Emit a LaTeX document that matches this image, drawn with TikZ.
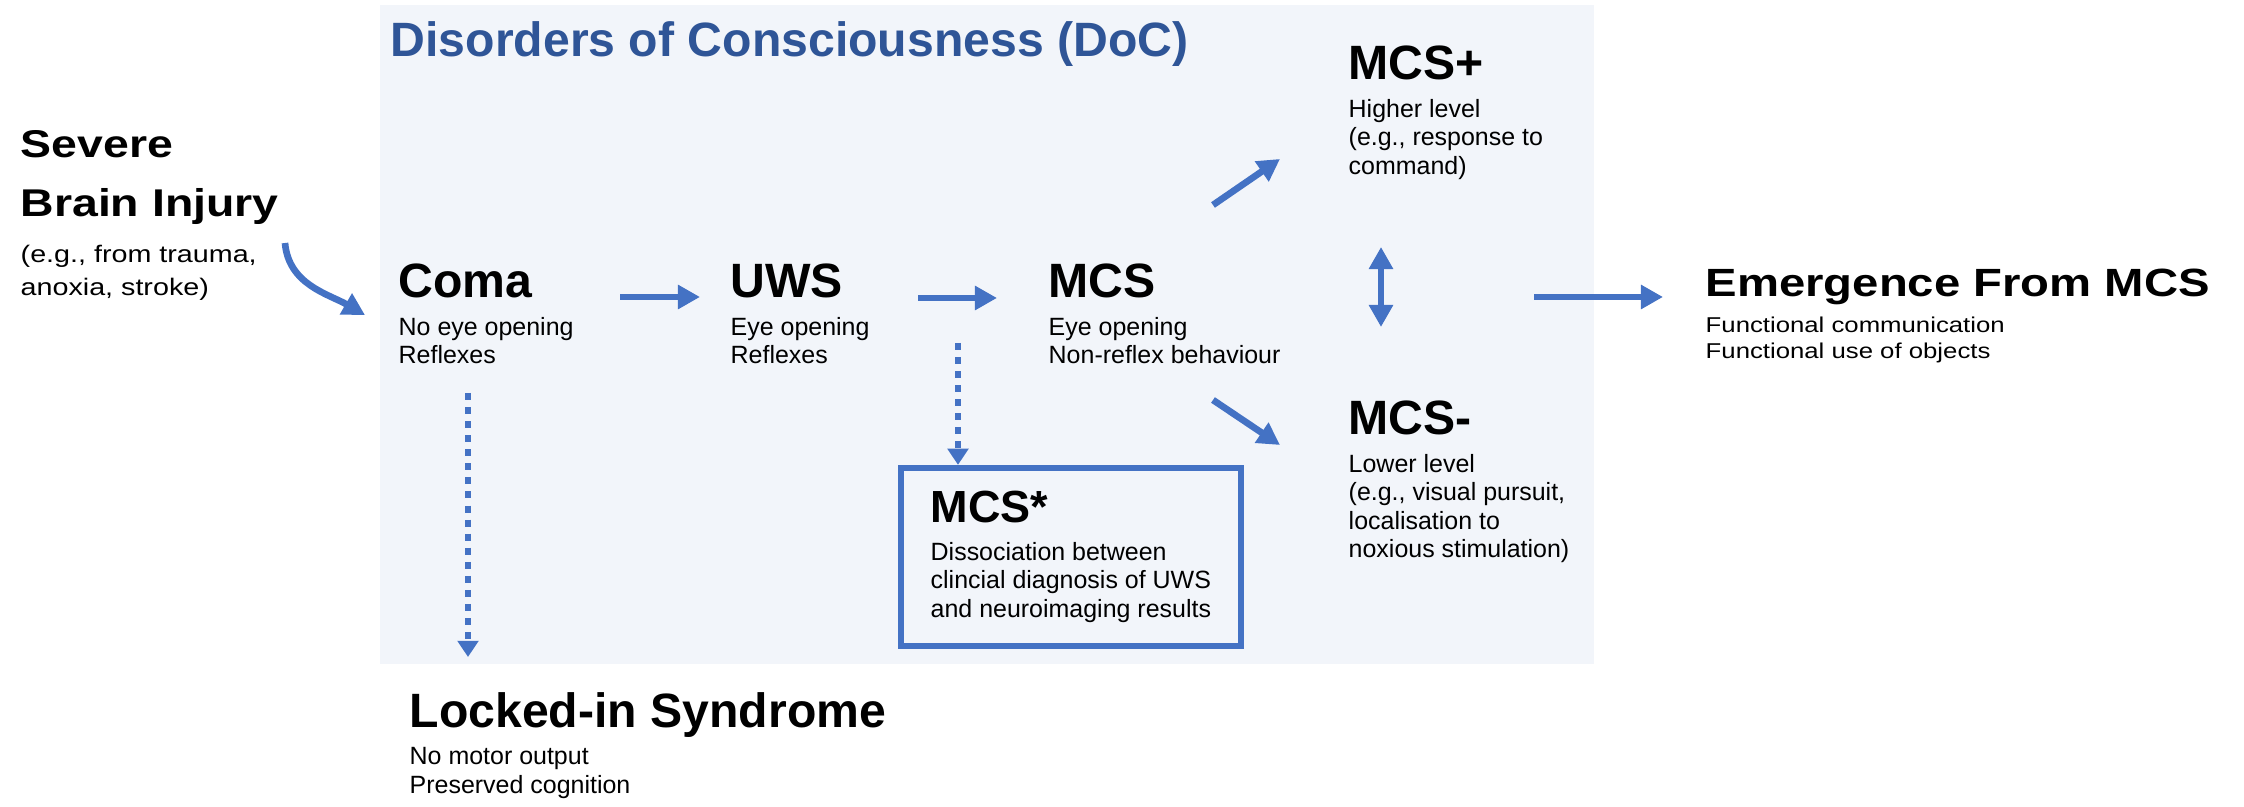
\documentclass[tikz,border=0pt]{standalone}
\usepackage{fontspec}
\setmainfont{Liberation Sans}
\newfontfamily\widesans[FakeStretch=1.2]{Liberation Sans}
\usetikzlibrary{arrows.meta,positioning,fit}
\definecolor{arrowblue}{HTML}{4472C4}
\definecolor{titleblue}{HTML}{2F5597}
\definecolor{panelgray}{HTML}{F2F5FA}
\begin{document}
\begin{tikzpicture}[
  x=0.01cm, y=0.01cm,
  node distance=0.19cm,
  head/.style={inner sep=0, anchor=base west, font=\fontsize{13.7}{16}\selectfont\bfseries},
  desc/.style={below=of #1, anchor=north west, inner sep=0, align=left, font=\fontsize{7.1}{8}\selectfont},
  flow/.style={draw=arrowblue, line width=1.9pt, -{Triangle[length=6.3pt,width=6.6pt]}},
  twoway/.style={flow, {Triangle[length=6.3pt,width=6.6pt]}-{Triangle[length=6.3pt,width=6.6pt]}},
  dotflow/.style={flow, dash pattern=on 2pt off 2pt, -{Triangle[length=4.6pt,width=5.8pt]}},
  starframe/.style={draw=arrowblue, line width=1.7pt, inner xsep=0.29cm, inner ysep=0.23cm}
]
\useasboundingbox (0,0) rectangle (2244,-807);
\node[fill=panelgray, inner sep=0, minimum width=12.14cm, minimum height=6.59cm, anchor=north west] (doc) at (379,-4) {};
\node[head, text=titleblue] (title) at (390,-57) {Disorders of Consciousness (DoC)};

% states
\node[head, anchor=north west, align=left, font=\widesans\fontsize{11}{16.8}\selectfont\bfseries] (severe) at (20,-130) {Severe\\Brain Injury};
\node[desc=severe.south west, font=\widesans\fontsize{6.8}{9.4}\selectfont] (severetxt) {(e.g., from trauma,\\anoxia, stroke)};

\node[head] (coma) at (398,-298) {Coma};
\node[desc=coma.base west] (comatxt) {No eye opening\\Reflexes};
\node[head] (uws) at (730,-298) {UWS};
\node[desc=uws.base west] (uwstxt) {Eye opening\\Reflexes};
\node[head] (mcs) at (1048,-298) {MCS};
\node[desc=mcs.base west] (mcstxt) {Eye opening\\Non-reflex behaviour};

\node[head] (mcsplus) at (1348,-80) {MCS+};
\node[desc=mcsplus.base west] (mcsplustxt) {Higher level\\(e.g., response to\\command)};
\node[head] (mcsminus) at (1348,-435) {MCS-};
\node[desc=mcsminus.base west] (mcsminustxt) {Lower level\\(e.g., visual pursuit,\\localisation to\\noxious stimulation)};

\node[head, font=\fontsize{12.8}{15}\selectfont\bfseries] (mcsstar) at (930,-523) {MCS*};
\node[desc=mcsstar.base west] (mcsstartxt) {Dissociation between\\clincial diagnosis of UWS\\and neuroimaging results};
\node[starframe, fit=(mcsstar)(mcsstartxt)] (starbox) {};

\node[head] (locked) at (409,-728) {Locked-in Syndrome};
\node[desc=locked.base west] (lockedtxt) {No motor output\\Preserved cognition};

\node[head, font=\widesans\fontsize{11.2}{14}\selectfont\bfseries] (emerge) at (1705,-297) {Emergence From MCS};
\node[desc=emerge.base west, font=\widesans\fontsize{6.1}{7.6}\selectfont] (emergetxt) {Functional communication\\Functional use of objects};

% transitions
\draw[flow] ([shift={(265,-113)}]severe.north west) to[out=-85,in=150] ([shift={(-33,-17)}]coma.base west);
\draw[flow] ([shift={(222,1)}]coma.base west) -- ([shift={(-30,1)}]uws.base west);
\draw[flow] ([shift={(188,0)}]uws.base west) -- ([shift={(-51,0)}]mcs.base west);
\draw[flow] ([shift={(165,93)}]mcs.base west) -- ([shift={(-68,-79)}]mcsplus.base west);
\draw[flow] ([shift={(165,-102)}]mcs.base west) -- ([shift={(-68,-10)}]mcsminus.base west);
\draw[twoway] ([shift={(33,-167)}]mcsplus.base west) -- ([shift={(33,108)}]mcsminus.base west);
\draw[flow] ([shift={(-61,0)}]doc.east |- emerge.base west) -- ([shift={(-42,0)}]emerge.base west);
\draw[dotflow] ([shift={(70,-95)}]coma.base west) -- ([shift={(59,71)}]locked.base west);
\draw[dotflow] ([shift={(228,-45)}]uws.base west) -- ([shift={(228,0)}]uws.base west |- starbox.north);
\end{tikzpicture}
\end{document}
